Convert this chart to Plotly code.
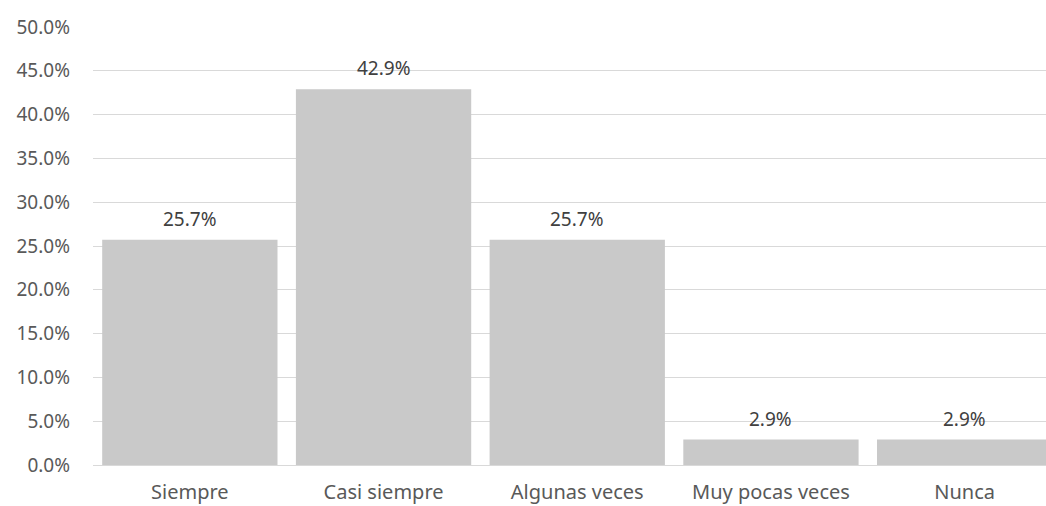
import plotly.graph_objects as go

categories = ["Siempre", "Casi siempre", "Algunas veces", "Muy pocas veces", "Nunca"]
values = [0.257, 0.429, 0.257, 0.029, 0.029]
tick_vals = [i * 0.05 for i in range(11)]

FONT = "Noto Sans"
TXT = "#595959"

fig = go.Figure(go.Bar(
    x=categories, y=values, marker=dict(color="#C9C9C9", line=dict(width=0)),
    width=0.905,
))

for c, v in zip(categories, values):
    fig.add_annotation(x=c, y=v, text=f"{v*100:.1f}%", showarrow=False,
                       yanchor="bottom", yshift=6,
                       font=dict(family=FONT, size=19, color="#404040"))

fig.update_layout(
    width=1046, height=506,
    margin=dict(l=93, r=0, t=27, b=41),
    paper_bgcolor="white", plot_bgcolor="white",
    showlegend=False,
    font=dict(family=FONT, size=19, color=TXT),
)
fig.update_xaxes(
    range=[-0.5, 4.42], showgrid=False, showline=False, zeroline=False,
    automargin=False,
    tickfont=dict(family=FONT, size=20, color=TXT), ticklabelstandoff=13,
)
fig.update_yaxes(
    range=[0, 0.5], tickvals=tick_vals, tickformat=".1%", automargin=False,
    gridcolor="#D9D9D9", gridwidth=1.3, zeroline=True, zerolinecolor="#D9D9D9", zerolinewidth=1.3,
    showline=False, tickfont=dict(family=FONT, size=19, color=TXT), ticklabelstandoff=22,
)

fig.write_html("out.html")
